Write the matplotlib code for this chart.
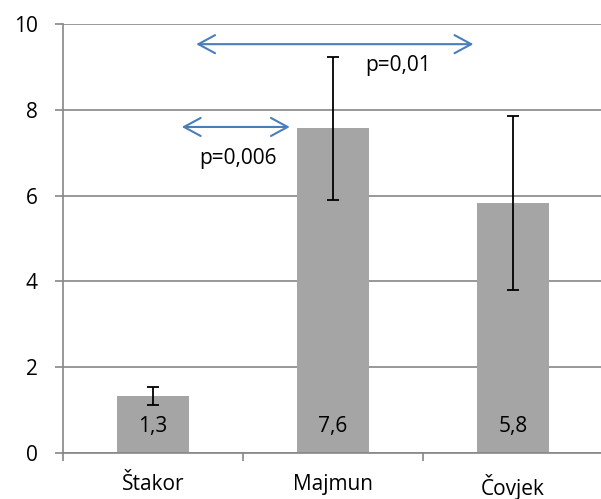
#!/usr/bin/env python3

import matplotlib.pyplot as plt

categories = ["Štakor", "Majmun", "Čovjek"]
values = [1.33, 7.57, 5.83]
errors = [0.21, 1.67, 2.03]
value_labels = ["1,3", "7,6", "5,8"]
yticks = [0, 2, 4, 6, 8, 10]

# comparisons: (x start, x end, y, label, label x, label y)
comparisons = [
    (0.16, 0.76, 7.6, "p=0,006", 0.47, 6.87),
    (0.24, 1.78, 9.53, "p=0,01", 1.36, 9.04),
]

plt.rcParams["font.family"] = ["Open Sans", "DejaVu Sans"]

fig = plt.figure(figsize=(6.01, 4.99), dpi=100)
ax = fig.add_axes([63 / 601, 46 / 499, 540 / 601, 429 / 499])

grey = "#868686"
fs = 15
x = list(range(len(categories)))

ax.bar(x, values, width=0.4, color="#a5a5a5", zorder=2)
ax.errorbar(x, values, yerr=errors, fmt="none", ecolor="black",
            elinewidth=1.3, capsize=4.5, capthick=1.3, zorder=3)

for xi, lab in zip(x, value_labels):
    ax.text(xi, 0.62, lab, ha="center", va="center", fontsize=fs, zorder=4)

for x0, x1, y, lab, lx, ly in comparisons:
    ax.annotate("", xy=(x0, y), xytext=(x1, y),
                arrowprops=dict(arrowstyle="<->,head_length=1.2,head_width=0.65",
                                color="#4a7ebb", lw=1.5, shrinkA=0, shrinkB=0))
    ax.text(lx, ly, lab, ha="center", va="center", fontsize=fs)

ax.set_xlim(-0.5, 2.5)
ax.set_ylim(0, 10)
ax.set_yticks(yticks)
ax.set_yticklabels([str(t) for t in yticks], fontsize=fs)
ax.yaxis.grid(True, color=grey, linewidth=1.2, zorder=0)
ax.set_axisbelow(True)

ax.set_xticks([-0.5, 0.5, 1.5, 2.5])
ax.set_xticklabels([])
ax.set_xticks(x, minor=True)
ax.set_xticklabels(categories, minor=True, fontsize=fs)
ax.tick_params(axis="x", which="minor", length=0, pad=15)
ax.tick_params(axis="x", which="major", length=6, color=grey, width=1.2)
ax.tick_params(axis="y", length=6, color=grey, width=1.2, pad=12)

for side in ["top", "right"]:
    ax.spines[side].set_visible(False)
for side in ["left", "bottom"]:
    ax.spines[side].set_color(grey)
    ax.spines[side].set_linewidth(1.2)

plt.savefig("out.png", dpi=100)
plt.close()
